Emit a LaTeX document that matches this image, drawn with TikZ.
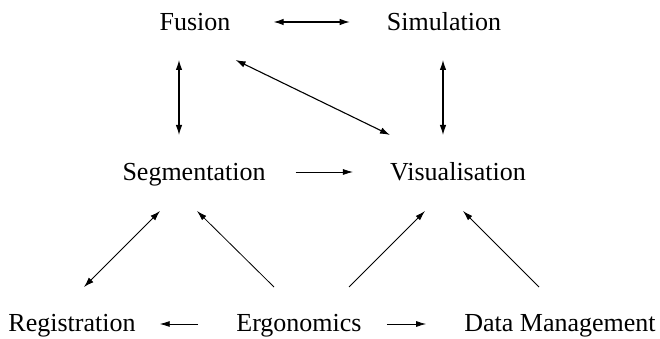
\documentclass[tikz,border=0pt]{standalone}
\usepackage{fontspec}
\setmainfont{Liberation Serif}
\usetikzlibrary{arrows.meta}

\begin{document}
\begin{tikzpicture}[x=1pt, y=1pt,
    topic/.style={anchor=base, inner sep=0pt, font=\fontsize{26}{31}\selectfont},
    link/.style={line width=0.8pt, -{Latex[length=10pt,width=6pt]}},
    twoway/.style={line width=1.1pt, {Latex[length=10pt,width=6.5pt]}-{Latex[length=10pt,width=6.5pt]}}]
      \useasboundingbox (0,0) rectangle (660,339);

      % Top row
      \node[topic] (fus) at (195,308) {Fusion};
      \node[topic] (sim) at (444,308) {Simulation};

      % Middle row
      \node[topic] (seg) at (194,158) {Segmentation};
      \node[topic] (vis) at (458,158) {Visualisation};

      % Bottom row
      \node[topic] (reg) at (72,7) {Registration};
      \node[topic] (erg) at (299,7) {Ergonomics};
      \node[topic] (dm) at (560,7) {Data Management};

      % Links between the top two rows
      \draw[twoway] ([xshift=43pt,yshift=9pt]fus.base east) -- ([xshift=-37pt,yshift=9pt]sim.base west);
      \draw[twoway] ([xshift=-16pt,yshift=-29pt]fus.base) -- ([xshift=-15pt,yshift=46pt]seg.base);
      \draw[twoway] ([xshift=5pt,yshift=-29pt]fus.base east) -- ([xshift=0pt,yshift=46pt]vis.base west);
      \draw[twoway] ([xshift=-1pt,yshift=-29pt]sim.base) -- ([xshift=-15pt,yshift=46pt]vis.base);
      \draw[link] ([xshift=30pt,yshift=9pt]seg.base east) -- ([xshift=-37pt,yshift=9pt]vis.base west);

      % Links from the bottom row
      \draw[twoway, line width=0.9pt] ([xshift=12pt,yshift=45pt]reg.base) -- ([xshift=-34pt,yshift=-30pt]seg.base);
      \draw[link] ([xshift=-25pt,yshift=45pt]erg.base) -- ([xshift=3pt,yshift=-30pt]seg.base);
      \draw[link] ([xshift=50pt,yshift=45pt]erg.base) -- ([xshift=-33pt,yshift=-30pt]vis.base);
      \draw[link] ([xshift=-21pt,yshift=45pt]dm.base) -- ([xshift=5pt,yshift=-30pt]vis.base);
      \draw[link] ([xshift=-38pt,yshift=8pt]erg.base west) -- ([xshift=24pt,yshift=8pt]reg.base east);
      \draw[link] ([xshift=25pt,yshift=8pt]erg.base east) -- ([xshift=-38pt,yshift=8pt]dm.base west);
\end{tikzpicture}
\end{document}
